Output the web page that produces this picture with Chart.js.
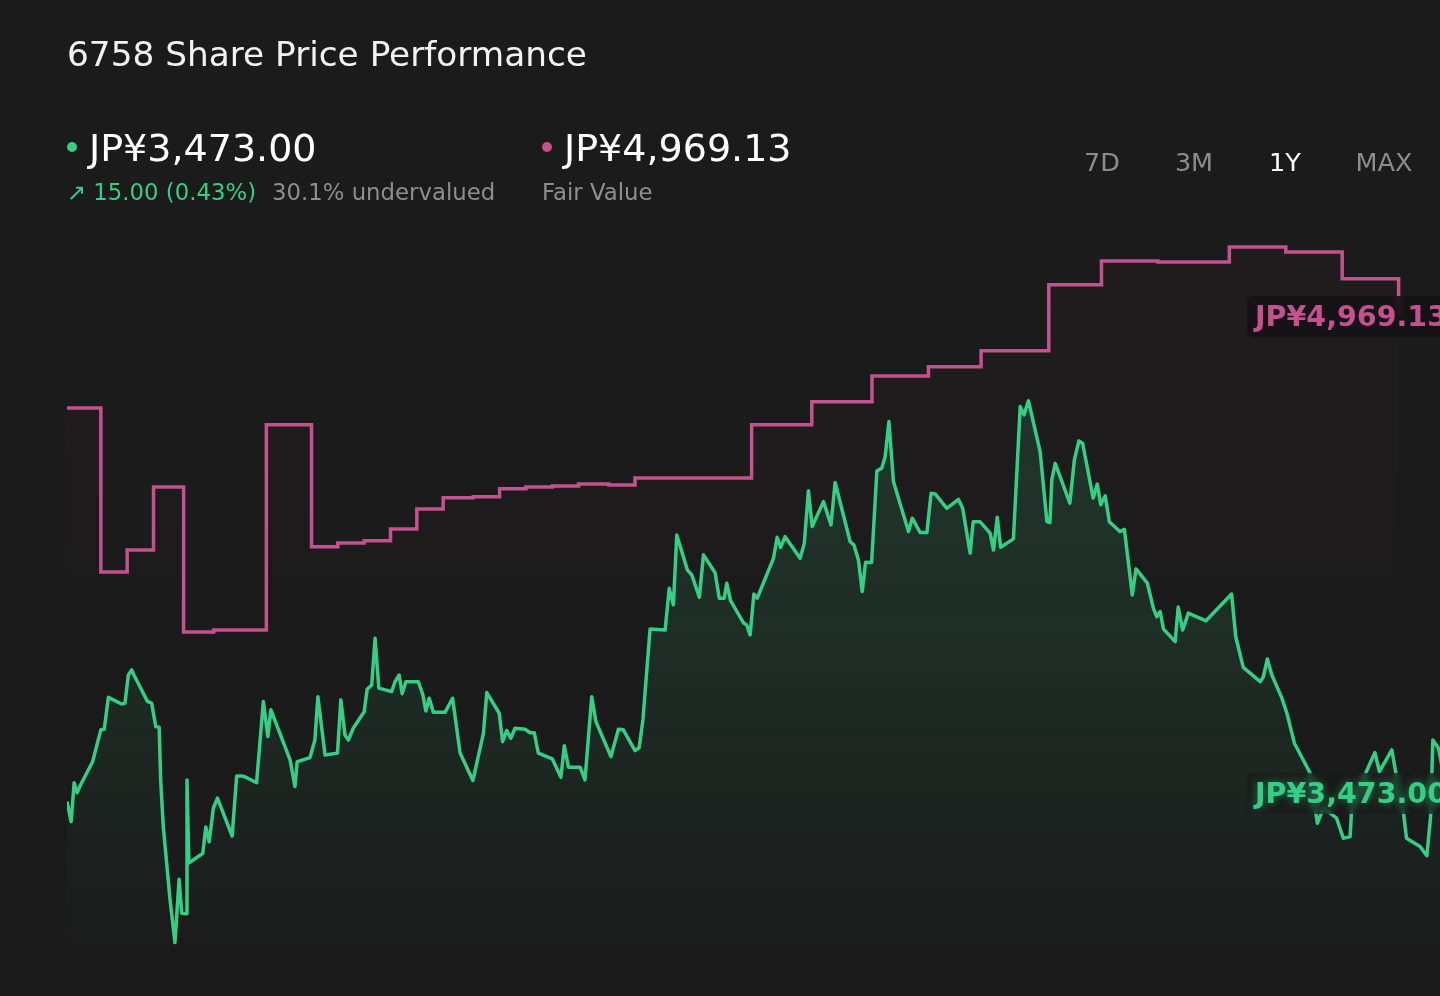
<!DOCTYPE html>
<html>
<head>
<meta charset="utf-8">
<script src="https://cdn.jsdelivr.net/npm/chart.js@4/dist/chart.umd.min.js"></script>
<style>
  html, body { margin: 0; padding: 0; background: #1b1b1b; }
  body { width: 1440px; height: 996px; position: relative; overflow: hidden; font-family: "DejaVu Sans", sans-serif; }
  #chart { position: absolute; left: 0; top: 0; }
  .t { position: absolute; line-height: 1; white-space: nowrap; }
  #title { left: 67px; top: 37px; font-size: 34.3px; color: #f2f2f2; }
  .big { top: 129px; font-size: 38px; color: #ffffff; }
  .dot { position: absolute; width: 10px; height: 10px; border-radius: 50%; top: 142px; }
  .sub { top: 181px; font-size: 22.8px; color: #8e8e8e; }
  .btn { top: 150px; font-size: 25.5px; color: #8c8c8c; width: 120px; text-align: center; }
  .tag { position: absolute; left: 1247px; height: 41px; width: 240px; border-radius: 6px;
         font-weight: bold; font-size: 28.5px; line-height: 41px; padding-left: 8px; box-sizing: border-box; white-space: nowrap; }
  #tagFv { color: #c4528f; background: rgba(20, 17, 19, 0.82); backdrop-filter: blur(3px); }
  #tagPx { color: #34cf84; background: rgba(24, 26, 25, 0.6); backdrop-filter: blur(3px);
           text-shadow: 0 0 8px rgba(52, 207, 132, 0.55); }
</style>
</head>
<body>
<canvas id="chart" width="1440" height="996"></canvas>

<div class="t" id="title">6758 Share Price Performance</div>

<div class="dot" style="left:67px;background:#34cf84"></div>
<div class="t big" style="left:89px">JP¥3,473.00</div>
<div class="dot" style="left:542px;background:#c4528f"></div>
<div class="t big" style="left:564px">JP¥4,969.13</div>

<div class="t sub" style="left:67px;color:#34cf84">↗ 15.00 (0.43%)</div>
<div class="t sub" style="left:272px">30.1% undervalued</div>
<div class="t sub" style="left:542px">Fair Value</div>

<div class="t btn" style="left:1042px">7D</div>
<div class="t btn" style="left:1134px">3M</div>
<div class="t btn" style="left:1225px;color:#ffffff">1Y</div>
<div class="t btn" style="left:1324px">MAX</div>

<div class="tag" id="tagFv">JP¥4,969.13</div>
<div class="tag" id="tagPx">JP¥3,473.00</div>

<script>
// fair value steps (day of the year the estimate changed)
const fvDays = [0, 9, 16, 23, 31, 39, 53, 65, 72, 79, 86, 93, 100, 108, 115, 122, 129, 136, 144, 151,
  182, 198, 214, 229, 243, 261, 275, 290, 309, 324, 339, 354]
const fvValues = [4684, 4169, 4238, 4436, 3981, 3987, 4631, 4248, 4260, 4267, 4304, 4367, 4402, 4405, 4430, 4436, 4439, 4445, 4442, 4464,
  4631, 4703, 4784, 4813, 4863, 5070, 5145, 5142, 5189, 5173, 5089, 4969.13]

// share price
const priceDays = [0, 1.1, 1.9, 2.7, 3.6, 6.8, 8.1, 9.0, 9.9, 11.0, 14.5, 15.4, 16.3, 17.2, 17.8, 21.4, 22.5, 23.6, 24.5, 24.9,
  25.6, 27.4, 28.7, 29.8, 30.5, 31.8, 31.9, 32.4, 36.1, 36.9, 37.8, 38.9, 40.0, 43.9, 45.1, 46.4, 47.3, 50.4, 52.2, 53.4,
  54.2, 59.3, 60.6, 61.2, 64.6, 65.9, 66.7, 68.6, 71.9, 72.8, 73.9, 74.8, 76.1, 79.0, 79.8, 81.0, 81.9, 82.9, 86.3, 87.2,
  88.3, 89.1, 90.1, 93.4, 94.6, 95.4, 96.3, 97.4, 100.5, 102.5, 104.5, 107.9, 110.7, 111.6, 114.9, 115.8, 116.9, 118.0, 119.1, 121.8,
  123.1, 124.2, 125.3, 129.0, 131.3, 132.2, 133.3, 136.4, 137.7, 139.5, 140.6, 144.6, 146.6, 147.9, 151.0, 152.1, 153.1, 155.0, 159.0, 160.1,
  161.2, 162.1, 164.9, 166.1, 168.1, 169.2, 172.3, 173.4, 174.7, 175.4, 176.4, 179.8, 180.7, 181.6, 182.6, 183.5, 187.8, 188.8, 189.7, 190.9,
  194.9, 196.0, 197.1, 198.1, 201.1, 203.1, 204.2, 208.2, 209.2, 210.4, 211.4, 212.3, 213.9, 215.3, 216.6, 217.5, 218.5, 219.7, 223.7, 224.7,
  226.8, 228.6, 229.7, 230.8, 233.9, 237.0, 238.1, 240.1, 240.9, 242.7, 245.4, 246.3, 247.3, 248.2, 251.6, 253.4, 254.4, 255.6, 258.7, 260.5,
  261.3, 261.8, 262.7, 266.6, 267.8, 269.0, 270.0, 272.8, 273.9, 274.8, 276.0, 277.1, 279.9, 281.1, 283.2, 284.2, 287.2, 288.8, 289.7, 290.6,
  291.5, 294.6, 295.4, 296.6, 298.1, 302.8, 309.6, 310.7, 312.7, 317.2, 318.0, 319.1, 320.3, 322.9, 324.3, 326.3, 330.4, 332.4, 334.0, 337.5,
  339.3, 341.1, 341.5, 345.5, 347.7, 348.9, 352.2, 353.5, 355.3, 356.1, 359.7, 361.5, 362.5, 363.1, 364.6, 367]
const priceValues = [3449, 3386, 3508, 3477, 3501, 3574, 3633, 3674, 3676, 3776, 3755, 3757, 3846, 3862, 3846, 3763, 3758, 3684, 3682, 3517,
  3370, 3140, 3007, 3205, 3099, 3097, 3517, 3256, 3287, 3369, 3323, 3428, 3460, 3341, 3529, 3529, 3527, 3508, 3763, 3653,
  3737, 3580, 3496, 3574, 3587, 3642, 3778, 3595, 3601, 3768, 3658, 3642, 3679, 3731, 3801, 3815, 3961, 3805, 3794, 3825,
  3846, 3787, 3825, 3825, 3784, 3733, 3773, 3729, 3729, 3773, 3601, 3515, 3663, 3791, 3726, 3637, 3672, 3648, 3679, 3676,
  3665, 3665, 3601, 3583, 3525, 3624, 3557, 3557, 3517, 3778, 3700, 3590, 3676, 3674, 3609, 3618, 3705, 3990, 3987, 4118,
  4066, 4285, 4176, 4160, 4090, 4223, 4167, 4087, 4087, 4134, 4079, 4010, 4003, 3972, 4100, 4087, 4212, 4278, 4246, 4280,
  4212, 4259, 4424, 4312, 4390, 4317, 4450, 4264, 4254, 4207, 4108, 4200, 4199, 4486, 4495, 4531, 4641, 4453, 4296, 4338,
  4293, 4293, 4416, 4414, 4369, 4397, 4369, 4228, 4327, 4327, 4291, 4238, 4341, 4247, 4273, 4688, 4662, 4706, 4547, 4327,
  4324, 4458, 4510, 4385, 4521, 4580, 4573, 4401, 4445, 4380, 4408, 4327, 4296, 4303, 4097, 4179, 4134, 4056, 4029, 4045,
  3990, 3951, 4059, 3987, 4040, 4016, 4100, 3966, 3870, 3825, 3839, 3896, 3846, 3776, 3726, 3632, 3540, 3381, 3429, 3397,
  3334, 3339, 3423, 3545, 3603, 3543, 3611, 3523, 3413, 3334, 3308, 3279, 3402, 3642, 3616, 3473]

const GREEN = "#34cf84"
const PINK = "#c4528f"

const fvPoints = fvDays.map((d, i) => ({ x: d, y: fvValues[i] }))
const pricePoints = priceDays.map((d, i) => ({ x: d, y: priceValues[i] }))

const fade = (rgb, top, mid) => (ctx) => {
  const area = ctx.chart.chartArea
  if (!area) return "transparent"
  const g = ctx.chart.ctx.createLinearGradient(0, area.top, 0, area.bottom)
  g.addColorStop(0, `rgba(${rgb},${top})`)
  g.addColorStop(0.55, `rgba(${rgb},${mid})`)
  g.addColorStop(1, `rgba(${rgb},0)`)
  return g
}

const chart = new Chart(document.getElementById("chart"), {
  type: "line",
  data: {
    datasets: [
      {
        label: "Share Price",
        data: pricePoints,
        borderColor: GREEN,
        borderWidth: 3.5,
        borderJoinStyle: "round",
        pointRadius: 0,
        tension: 0,
        fill: "start",
        backgroundColor: fade("52,207,132", 0.17, 0.1),
      },
      {
        label: "Fair Value",
        data: fvPoints,
        stepped: true,
        borderColor: PINK,
        borderWidth: 3.5,
        pointRadius: 0,
        fill: "start",
        backgroundColor: fade("196,82,143", 0.03, 0.008),
      },
    ],
  },
  options: {
    responsive: false,
    animation: false,
    layout: { padding: { top: 230, left: 67, right: 0, bottom: 36 } },
    scales: {
      x: { type: "linear", min: 0, max: 365, display: false },
      y: { min: 2952, max: 5242, display: false },
    },
    plugins: { legend: { display: false }, tooltip: { enabled: false } },
  },
})

// park the value tags at the latest values
const y = chart.scales.y
document.getElementById("tagFv").style.top = (y.getPixelForValue(fvValues[fvValues.length - 1]) - 20.5) + "px"
document.getElementById("tagPx").style.top = (y.getPixelForValue(3473) - 20.5) + "px"
</script>
</body>
</html>
